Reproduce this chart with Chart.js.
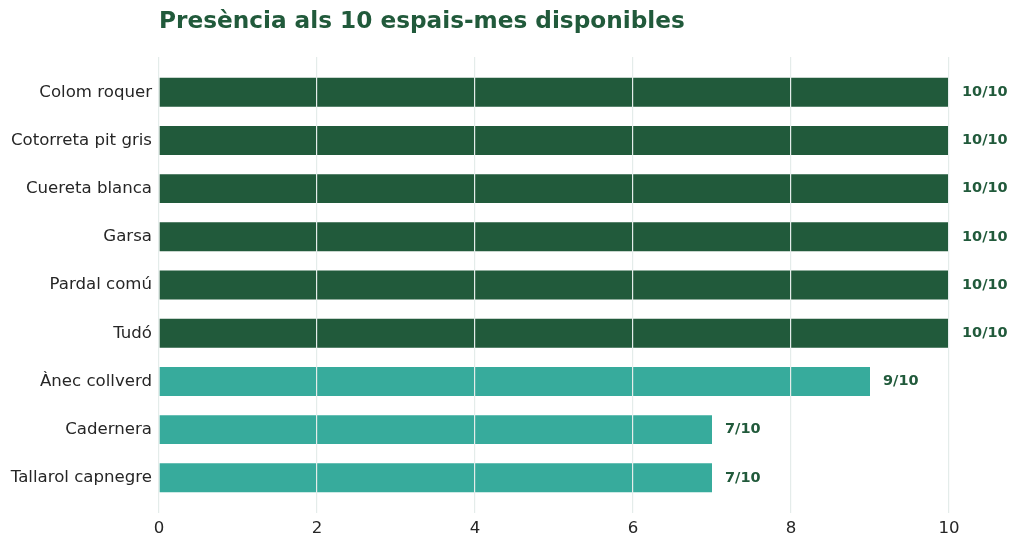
<!DOCTYPE html>
<html>
<head>
  <meta charset="utf-8">
  <title>Presència als 10 espais-mes</title>
  <script src="https://cdn.jsdelivr.net/npm/chart.js"></script>
  <style>
    html, body { margin: 0; padding: 0; background: #ffffff; }
    #chart-container { width: 1024px; height: 547px; position: relative; }
  </style>
</head>
<body>
  <div id="chart-container">
    <canvas id="myChart"></canvas>
  </div>
  <script>
    // Dades
    const species = ['Colom roquer', 'Cotorreta pit gris', 'Cuereta blanca', 'Garsa', 'Pardal comú', 'Tudó', 'Ànec collverd', 'Cadernera', 'Tallarol capnegre'];
    const presence = [10, 10, 10, 10, 10, 10, 9, 7, 7];
    const totalSpaces = 10;
    const xTicks = [0, 2, 4, 6, 8, 10];

    const darkGreen = '#215a3b';
    const teal = '#37ab9c';

    // Etiquetes de valor a la dreta de cada barra
    const valueLabels = {
      id: 'valueLabels',
      afterDatasetsDraw(chart) {
        const ctx = chart.ctx;
        const meta = chart.getDatasetMeta(0);
        ctx.save();
        ctx.font = 'bold 14.5px "DejaVu Sans"';
        ctx.fillStyle = darkGreen;
        ctx.textBaseline = 'middle';
        ctx.textAlign = 'left';
        meta.data.forEach((bar, i) => {
          ctx.fillText(presence[i] + '/' + totalSpaces, bar.x + 13, bar.y);
        });
        ctx.restore();
      }
    };

    const ctx = document.getElementById('myChart').getContext('2d');
    new Chart(ctx, {
      type: 'bar',
      data: {
        datasets: [{
          data: presence.map((v, i) => ({ x: v, y: i })),
          backgroundColor: (c) => (presence[c.dataIndex] === totalSpaces ? darkGreen : teal),
          borderWidth: 0,
          categoryPercentage: 1,
          barPercentage: 0.6
        }]
      },
      options: {
        indexAxis: 'y',
        responsive: true,
        maintainAspectRatio: false,
        animation: false,
        layout: { padding: { left: 0, right: 75, top: 0, bottom: 0 } },
        scales: {
          x: {
            type: 'linear',
            bounds: 'data',
            min: 0,
            max: 10,
            afterBuildTicks: (scale) => { scale.ticks = xTicks.map(v => ({ value: v })); },
            afterFit: (scale) => { scale.height = 34; },
            ticks: {
              padding: 6,
              color: '#262626',
              font: { family: 'DejaVu Sans', size: 16.6 }
            },
            // rejilla per sobre de les barres
            grid: { z: 1, color: '#e4ecea', lineWidth: 1.2, drawTicks: false },
            border: { display: false }
          },
          y: {
            type: 'linear',
            bounds: 'data',
            offset: false,
            reverse: true,
            afterDataLimits: (scale) => { scale.min = -0.73; scale.max = species.length - 1 + 0.73; },
            afterBuildTicks: (scale) => { scale.ticks = species.map((_, i) => ({ value: i })); },
            afterFit: (scale) => { scale.width = 159; },
            ticks: {
              padding: 7,
              color: '#262626',
              font: { family: 'DejaVu Sans', size: 16.6 },
              callback: (v) => species[v]
            },
            grid: { display: false, drawTicks: false },
            border: { display: false }
          }
        },
        plugins: {
          legend: { display: false },
          tooltip: { enabled: false },
          title: {
            display: true,
            text: 'Presència als 10 espais-mes disponibles',
            align: 'start',
            fullSize: false,
            color: darkGreen,
            font: { family: 'DejaVu Sans', size: 23.2, weight: 'bold' },
            padding: { top: 8, bottom: 21.2 }
          }
        }
      },
      plugins: [valueLabels]
    });
  </script>
</body>
</html>
